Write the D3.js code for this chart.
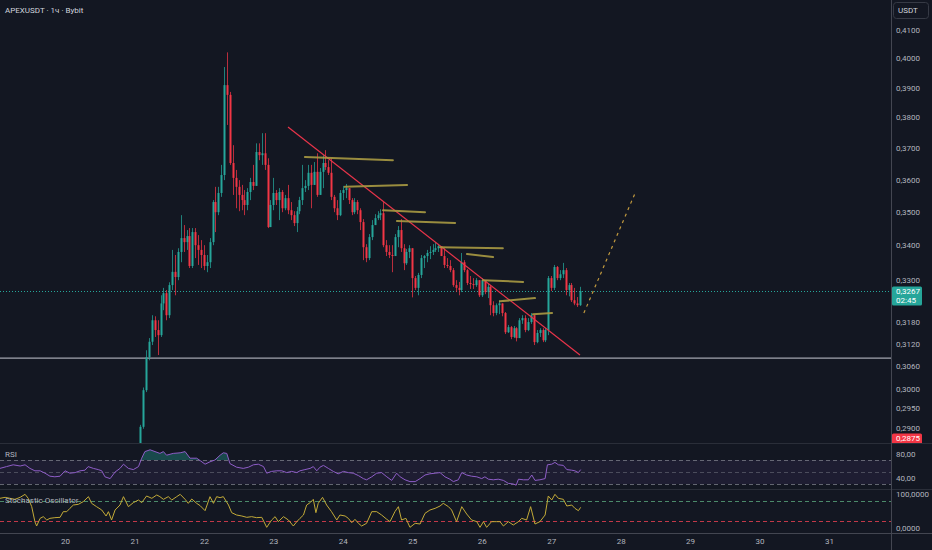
<!DOCTYPE html>
<html><head><meta charset="utf-8">
<script src="https://cdn.jsdelivr.net/npm/d3@7"></script>
<style>
html,body{margin:0;padding:0;background:#131722;overflow:hidden}
svg{display:block;font-family:Roboto,"Noto Sans",sans-serif}
</style></head><body>
<svg id="c" width="932" height="550"></svg>
<script>
// ---------- DATA ----------
const title = "APEXUSDT · 1ч · Bybit";
const firstHour = 50;            // hours since 19th 00:00 of first visible candle
const firstOpen = 0.2850;
const closes = [0.2903,0.2997,0.3084,0.3126,0.3185,0.3158,0.3144,0.3232,0.3261,0.3199,
0.3284,0.3322,0.3307,0.3380,0.3421,0.3409,0.3427,0.3339,0.3439,0.3400,
0.3386,0.3371,0.3339,0.3350,0.3409,0.3530,0.3499,0.3558,0.3614,0.3908,
0.3875,0.3652,0.3605,0.3577,0.3552,0.3536,0.3521,0.3561,0.3592,0.3580,
0.3687,0.3677,0.3683,0.3646,0.3454,0.3521,0.3558,0.3536,0.3561,0.3511,
0.3542,0.3505,0.3490,0.3466,0.3502,0.3536,0.3573,0.3580,0.3621,0.3583,
0.3624,0.3552,0.3624,0.3652,0.3639,0.3621,0.3546,0.3511,0.3490,0.3558,
0.3567,0.3573,0.3536,0.3499,0.3530,0.3505,0.3469,0.3394,0.3362,0.3424,
0.3460,0.3481,0.3490,0.3496,0.3400,0.3380,0.3371,0.3368,0.3424,0.3445,
0.3391,0.3347,0.3380,0.3391,0.3304,0.3276,0.3313,0.3362,0.3368,0.3377,
0.3380,0.3386,0.3391,0.3397,0.3368,0.3342,0.3339,0.3327,0.3284,0.3276,
0.3270,0.3350,0.3327,0.3290,0.3287,0.3284,0.3298,0.3255,0.3298,0.3264,
0.3279,0.3227,0.3205,0.3227,0.3232,0.3205,0.3152,0.3166,0.3139,0.3163,
0.3136,0.3185,0.3191,0.3158,0.3180,0.3199,0.3125,0.3150,0.3158,0.3130,
0.3158,0.3304,0.3276,0.3336,0.3304,0.3315,0.3327,0.3270,0.3284,0.3241,
0.3232,0.3227,0.3267];
const highs = [0.2908,0.3004,0.3103,0.3136,0.3199,0.3196,0.3185,0.3255,0.3276,0.3270,
0.3292,0.3386,0.3371,0.3391,0.3490,0.3460,0.3445,0.3451,0.3451,0.3451,
0.3430,0.3415,0.3400,0.3371,0.3421,0.3536,0.3577,0.3577,0.3646,0.3970,
0.4021,0.3885,0.3709,0.3630,0.3598,0.3583,0.3567,0.3573,0.3605,0.3646,
0.3715,0.3715,0.3748,0.3748,0.3667,0.3536,0.3605,0.3567,0.3573,0.3567,
0.3552,0.3583,0.3530,0.3502,0.3515,0.3546,0.3646,0.3598,0.3646,0.3646,
0.3655,0.3683,0.3636,0.3677,0.3693,0.3661,0.3667,0.3552,0.3536,0.3567,
0.3580,0.3586,0.3573,0.3542,0.3542,0.3536,0.3511,0.3478,0.3403,0.3433,
0.3475,0.3493,0.3502,0.3508,0.3530,0.3415,0.3400,0.3400,0.3433,0.3457,
0.3478,0.3403,0.3389,0.3400,0.3362,0.3310,0.3319,0.3371,0.3371,0.3386,
0.3397,0.3403,0.3409,0.3403,0.3391,0.3391,0.3362,0.3356,0.3333,0.3298,
0.3293,0.3377,0.3356,0.3330,0.3310,0.3304,0.3304,0.3298,0.3304,0.3298,
0.3287,0.3284,0.3238,0.3232,0.3241,0.3232,0.3208,0.3172,0.3169,0.3169,
0.3166,0.3191,0.3199,0.3199,0.3191,0.3205,0.3196,0.3158,0.3163,0.3163,
0.3163,0.3310,0.3310,0.3342,0.3339,0.3327,0.3348,0.3333,0.3290,0.3290,
0.3276,0.3250,0.3279];
const lows = [0.2845,0.2898,0.2992,0.3076,0.3117,0.3139,0.3090,0.3139,0.3213,0.3185,
0.3191,0.3270,0.3255,0.3298,0.3350,0.3380,0.3386,0.3333,0.3333,0.3362,
0.3342,0.3333,0.3327,0.3321,0.3333,0.3400,0.3439,0.3490,0.3546,0.3598,
0.3775,0.3646,0.3552,0.3511,0.3502,0.3505,0.3490,0.3505,0.3536,0.3567,
0.3583,0.3661,0.3646,0.3630,0.3451,0.3454,0.3505,0.3521,0.3475,0.3499,
0.3505,0.3493,0.3475,0.3457,0.3439,0.3493,0.3521,0.3561,0.3567,0.3511,
0.3583,0.3546,0.3552,0.3573,0.3630,0.3614,0.3536,0.3499,0.3475,0.3487,
0.3536,0.3542,0.3524,0.3490,0.3493,0.3493,0.3445,0.3356,0.3350,0.3356,
0.3415,0.3460,0.3475,0.3475,0.3394,0.3368,0.3362,0.3321,0.3371,0.3394,
0.3380,0.3327,0.3342,0.3362,0.3249,0.3270,0.3255,0.3304,0.3333,0.3350,
0.3359,0.3371,0.3380,0.3380,0.3374,0.3333,0.3333,0.3321,0.3279,0.3264,
0.3255,0.3264,0.3321,0.3284,0.3273,0.3273,0.3279,0.3250,0.3250,0.3258,
0.3247,0.3199,0.3196,0.3199,0.3202,0.3196,0.3147,0.3150,0.3133,0.3136,
0.3127,0.3136,0.3175,0.3152,0.3155,0.3175,0.3117,0.3122,0.3139,0.3125,
0.3125,0.3144,0.3267,0.3270,0.3298,0.3298,0.3304,0.3255,0.3252,0.3236,
0.3227,0.3222,0.3225];

const priceTicks = [0.4100,0.4000,0.3900,0.3800,0.3700,0.3600,0.3500,0.3400,0.3300,0.3180,0.3120,0.3060,0.3000,0.2950,0.2900];
const dayLabels = [20,21,22,23,24,25,26,27,28,29,30,31];
const firstDay = 19;

const rsiHours = [1.5,3.8,6.1,8.5,10.2,11.9,13.6,15.4,17.1,18.8,20.5,22.3,24,25.7,27.5,29.2,30.9,32,33.8,35.5,36.7,37.8,39.6,41.3,43,44.2,45.9,47.6,49.4,50.5,51.6,53.4,55.1,56.8,58,59.1,61.4,63.8,65.5,67.2,69.5,70.7,72.4,74.1,75.8,77.6,78.7,79.9,81,83.3,85.6,87.4,89.1,90.8,92.6,93.7,95.4,97.2,98.9,100.6,102.3,104.1,
105.2,106.9,108.7,109.8,111,112.1,113.3,115,116.7,118.4,120.2,121.9,123.6,125.4,127.1,128.2,130,131.7,133.4,135.2,136.9,138.6,139.8,141.5,143.2,145,146.7,148.4,150.1,151.9,153.6,155.3,157,158.2,159.9,161.1,162.8,164.5,166.3,168,169.1,170.3,172,173.7,175.5,177.2,178.9,179.9,180.7,182.4,184.1,185.3,186.4,188.1,189.9,190.7,192.2,193.3,194.5,196.2,197.4,199.1,200.2,201.4,202.2];
const rsiValues = [56,59,62,60,62,56,52,52,48,43,42,43,52,48,49,52,53,59,56,54,52,42,39,50,56,63,56,54,59,73,84,87,84,81,84,78,81,82,84,73,73,69,63,67,70,78,82,81,64,58,56,58,62,63,59,48,51,52,52,49,51,49,
52,54,56,59,52,58,61,56,51,47,51,49,48,44,39,37,42,48,49,42,36,48,42,37,34,34,39,45,47,48,49,42,38,34,37,49,45,43,42,39,42,38,37,38,36,31,30,28,38,37,37,45,36,37,39,62,63,66,62,61,54,53,52,49,54];
const rsiLevels = [70,50,30];
const rsiAxisTicks = [80,40];

const stochHours = [1.5,3.3,5,6.7,8.5,10.2,11.3,12.5,13.6,14.2,15.4,16.5,17.7,18.8,20.5,22.3,23.4,24.6,25.7,26.9,28.6,30.3,32.1,33.2,34.9,36.7,38.2,39,40.1,41.3,43,44.2,45.9,47.6,49.4,50.5,52.2,54,55.7,56.8,58,59.7,60.9,62.6,63.8,65.5,66.6,67.8,69.5,70.7,72.4,74.1,75.3,76.4,77.6,78.7,80.5,81.6,83.3,85.1,86.8,88.5,90.2,92,93.7,95.4,96.6,97.7,99.5,101.2,102.9,104.1,
105.2,106.4,107.5,108.7,109.8,110.7,111.5,113,114.4,116.1,117.9,119,120.8,121.9,123.1,124.2,125.4,126.5,128.2,130,131.7,133.4,135.2,136.3,138,139.2,140.3,141.8,143.2,145,146.7,148.4,150.1,151.9,153.6,154.7,156.5,157.6,159.3,161.1,162.8,164.5,166.3,167.4,168.6,169.7,171.4,173.2,174.3,175.5,177.2,178.9,180.7,181.8,183.5,184.9,186.4,188.1,189.9,191,192.2,193.3,194.5,196.2,197.4,199.1,200.2,201.4,202.2];
const stochValues = [88,91,88,85,91,100,88,63,18,5,28,33,23,28,30,31,48,48,58,68,70,78,93,73,63,53,35,48,23,53,68,93,63,75,83,75,95,88,98,93,85,93,83,93,100,85,73,86,73,66,51,93,73,93,90,93,68,45,38,35,31,33,30,31,1,23,33,18,33,23,5,18,
28,38,68,75,85,45,73,91,68,48,23,38,35,28,15,25,13,5,13,48,48,38,25,18,48,63,23,28,1,13,11,43,53,58,65,73,63,53,18,63,41,23,18,1,18,1,18,18,18,5,18,8,18,28,23,63,11,18,38,95,83,100,88,85,65,68,58,51,61];
const stochLevels = [80,20];
const stochAxisTicks = [100,0];

const lastPrice = 0.3267, countdown = "02:45";
const markerPrice = 0.2875;
const supportPrice = 0.3082;
const trendHours = [101.05,201.95], trendPrices = [0.3768,0.3090];
const levelStartHours = [106.9,120.7,133.9,138.7,153.6,162.9,168.4,174.3,185.7];
const levelEndHours   = [137.3,142.2,148.4,158.8,175.3,171.9,182.3,186.4,192.3];
const levelStartPrices= [0.3671,0.3577,0.3505,0.3472,0.3394,0.3374,0.3298,0.3238,0.3202];
const levelEndPrices  = [0.3661,0.3583,0.3499,0.3466,0.3391,0.3365,0.3293,0.3247,0.3205];
const projHours = [203.3,221.3], projPrices = [0.3205,0.3564];

// ---------- LAYOUT ----------
const W=932,H=550, plotR=891, mainB=443, rsiB=489, stochB=533;
const svg=d3.select("#c");
svg.append("rect").attr("width",W).attr("height",H).attr("fill","#131722");

const x=d3.scaleLinear().domain([(20-firstDay)*24,(31-firstDay)*24]).range([65,829]);
const y=d3.scaleLog().domain([0.29,0.41]).range([428,30]);
const yR=d3.scaleLinear().domain([30,70]).range([484,460]);
const yS=d3.scaleLinear().domain([20,80]).range([521,501]);
const comma=f=>v=>d3.format(f)(v).replace(".",",");

const defs=svg.append("defs");
defs.append("clipPath").attr("id","cm").append("rect").attr("x",0).attr("y",0).attr("width",plotR).attr("height",mainB);
defs.append("clipPath").attr("id","cr").append("rect").attr("x",0).attr("y",mainB).attr("width",plotR).attr("height",rsiB-mainB);
defs.append("clipPath").attr("id","cs").append("rect").attr("x",0).attr("y",rsiB).attr("width",plotR).attr("height",stochB-rsiB);
defs.append("clipPath").attr("id","cob").append("rect").attr("x",0).attr("y",mainB).attr("width",plotR).attr("height",yR(70)-mainB);
defs.append("clipPath").attr("id","cos").append("rect").attr("x",0).attr("y",yR(30)).attr("width",plotR).attr("height",rsiB-yR(30));
defs.append("clipPath").attr("id","cax").append("rect").attr("x",plotR).attr("y",0).attr("width",W-plotR).attr("height",mainB);

// ---------- MAIN PANE ----------
const main=svg.append("g").attr("clip-path","url(#cm)");
main.append("line").attr("x1",0).attr("x2",plotR).attr("y1",y(supportPrice)).attr("y2",y(supportPrice))
  .attr("stroke","#a3a6af").attr("stroke-width",1.3);
main.append("line").attr("x1",0).attr("x2",plotR).attr("y1",Math.round(y(lastPrice))+0.5).attr("y2",Math.round(y(lastPrice))+0.5)
  .attr("stroke","#26a69a").attr("stroke-width",1).attr("stroke-dasharray","1,2");

const candles=closes.map((c,i)=>({h:firstHour+i,o:i?closes[i-1]:firstOpen,c,hi:highs[i],lo:lows[i]}));
const up="#26a69a", dn="#f23645";
const cg=main.append("g");
cg.selectAll("line.w").data(candles).join("line").attr("class","w")
  .attr("x1",d=>Math.round(x(d.h))+0.5).attr("x2",d=>Math.round(x(d.h))+0.5)
  .attr("y1",d=>y(Math.max(d.hi,d.o,d.c))).attr("y2",d=>y(Math.min(d.lo,d.o,d.c)))
  .attr("stroke",d=>d.c>=d.o?up:dn).attr("stroke-opacity",0.75).attr("stroke-width",1);
cg.selectAll("rect.b").data(candles).join("rect").attr("class","b")
  .attr("x",d=>Math.round(x(d.h))-0.5).attr("width",2)
  .attr("y",d=>y(Math.max(d.o,d.c))).attr("height",d=>Math.max(1,Math.abs(y(d.o)-y(d.c))))
  .attr("fill",d=>d.c>=d.o?up:dn);

main.append("line").attr("x1",x(trendHours[0])).attr("y1",y(trendPrices[0])).attr("x2",x(trendHours[1])).attr("y2",y(trendPrices[1]))
  .attr("stroke","#e8344a").attr("stroke-width",1.2);
main.selectAll("line.lv").data(levelStartHours).join("line").attr("class","lv")
  .attr("x1",(d,i)=>x(d)).attr("x2",(d,i)=>x(levelEndHours[i]))
  .attr("y1",(d,i)=>y(levelStartPrices[i])).attr("y2",(d,i)=>y(levelEndPrices[i]))
  .attr("stroke","#a99a43").attr("stroke-width",2).attr("stroke-linecap","round").attr("opacity",0.9);
main.append("line").attr("x1",x(projHours[0])).attr("y1",y(projPrices[0])).attr("x2",x(projHours[1])).attr("y2",y(projPrices[1]))
  .attr("stroke","#c29a3e").attr("stroke-width",1.2).attr("stroke-dasharray","3,4");

// ---------- RSI PANE ----------
const rp=svg.append("g").attr("clip-path","url(#cr)");
rp.append("rect").attr("x",0).attr("width",plotR).attr("y",yR(70)).attr("height",yR(30)-yR(70)).attr("fill","rgba(126,87,194,0.1)");
rp.selectAll("line.lvl").data(rsiLevels).join("line").attr("class","lvl")
  .attr("x1",0).attr("x2",plotR).attr("y1",d=>Math.round(yR(d))+0.5).attr("y2",d=>Math.round(yR(d))+0.5)
  .attr("stroke","#787b86").attr("stroke-opacity",d=>d===50?0.5:0.8).attr("stroke-dasharray","4,3");
const rsiPts=rsiHours.map((h,i)=>[h,rsiValues[i]]);
rp.append("path").datum(rsiPts).attr("clip-path","url(#cob)")
  .attr("d",d3.area().x(d=>x(d[0])).y0(yR(70)).y1(d=>yR(d[1])))
  .attr("fill","rgba(38,166,154,0.35)");
rp.append("path").datum(rsiPts).attr("clip-path","url(#cos)")
  .attr("d",d3.area().x(d=>x(d[0])).y0(yR(30)).y1(d=>yR(d[1])))
  .attr("fill","rgba(242,54,69,0.3)");
rp.append("path").datum(rsiPts).attr("d",d3.line().x(d=>x(d[0])).y(d=>yR(d[1])))
  .attr("fill","none").attr("stroke","#8e5dc7").attr("stroke-width",1);

// ---------- STOCH PANE ----------
const sp=svg.append("g").attr("clip-path","url(#cs)");
sp.selectAll("line.lvl").data(stochLevels).join("line").attr("class","lvl")
  .attr("x1",0).attr("x2",plotR).attr("y1",d=>Math.round(yS(d))+0.5).attr("y2",d=>Math.round(yS(d))+0.5)
  .attr("stroke",d=>d===80?"#4b8a6a":"#c23848").attr("stroke-dasharray","4,3");
const stPts=stochHours.map((h,i)=>[h,stochValues[i]]);
sp.append("path").datum(stPts).attr("d",d3.line().x(d=>x(d[0])).y(d=>yS(d[1])))
  .attr("fill","none").attr("stroke","#c2aa38").attr("stroke-width",1);

// ---------- SEPARATORS ----------
[[mainB,"#2a2e39"],[rsiB,"#2a2e39"],[stochB,"#434651"]].forEach(([yy,c])=>
  svg.append("line").attr("x1",0).attr("x2",W).attr("y1",yy+0.5).attr("y2",yy+0.5).attr("stroke",c));
svg.append("line").attr("x1",plotR+0.5).attr("x2",plotR+0.5).attr("y1",0).attr("y2",H).attr("stroke","#434651");

// ---------- AXES ----------
function styleAxis(g){g.select(".domain").remove();g.selectAll("text").attr("fill","#b2b5be").attr("font-size","8px").attr("font-family","Roboto,sans-serif");}
svg.append("g").attr("transform",`translate(${plotR},0)`)
  .call(d3.axisRight(y).tickValues(priceTicks).tickFormat(comma(".4f")).tickSize(0).tickPadding(5)).call(styleAxis);
svg.append("g").attr("transform",`translate(${plotR},0)`)
  .call(d3.axisRight(yR).tickValues(rsiAxisTicks).tickFormat(comma(".2f")).tickSize(0).tickPadding(5)).call(styleAxis);
svg.append("g").attr("transform",`translate(${plotR},0)`)
  .call(d3.axisRight(yS).tickValues(stochAxisTicks).tickFormat(comma(".4f")).tickSize(0).tickPadding(5)).call(styleAxis);
svg.append("g").attr("transform",`translate(0,${stochB})`)
  .call(d3.axisBottom(x).tickValues(dayLabels.map(d=>(d-firstDay)*24)).tickFormat(h=>String(firstDay+h/24)).tickSize(0).tickPadding(5)).call(styleAxis);

// price labels
const ax=svg.append("g").attr("clip-path","url(#cax)");
const ly=y(lastPrice);
ax.append("rect").attr("x",plotR+1).attr("y",ly-4.5).attr("width",30).attr("height",19).attr("rx",1.5).attr("fill","#26a69a");
ax.append("text").attr("x",plotR+5).attr("y",ly+0.5).attr("dominant-baseline","middle").attr("fill","#fff").attr("font-size","8px").text(comma(".4f")(lastPrice));
ax.append("text").attr("x",plotR+5).attr("y",ly+9.5).attr("dominant-baseline","middle").attr("fill","#fff").attr("font-size","8px").text(countdown);
const my=y(markerPrice);
ax.append("rect").attr("x",plotR+1).attr("y",my-4.5).attr("width",30).attr("height",14).attr("rx",1.5).attr("fill","#f23645");
ax.append("text").attr("x",plotR+5).attr("y",my+0.5).attr("dominant-baseline","middle").attr("fill","#fff").attr("font-size","8px").text(comma(".4f")(markerPrice));

// USDT box
svg.append("rect").attr("x",893.5).attr("y",2.5).attr("width",35).attr("height",16).attr("rx",3).attr("fill","#131722").attr("stroke","#363a45");
svg.append("text").attr("x",898).attr("y",11).attr("dominant-baseline","middle").attr("fill","#d1d4dc").attr("font-size","8px").text("USDT");

// titles
svg.append("text").attr("x",5).attr("y",11).attr("dominant-baseline","middle").attr("fill","#d1d4dc").attr("font-size","8px").text(title);
svg.append("text").attr("x",5).attr("y",455).attr("dominant-baseline","middle").attr("fill","#b2b5be").attr("font-size","8px").text("RSI");
svg.append("text").attr("x",5).attr("y",501).attr("dominant-baseline","middle").attr("fill","#b2b5be").attr("font-size","8px").text("Stochastic Oscillator");
</script></body></html>
